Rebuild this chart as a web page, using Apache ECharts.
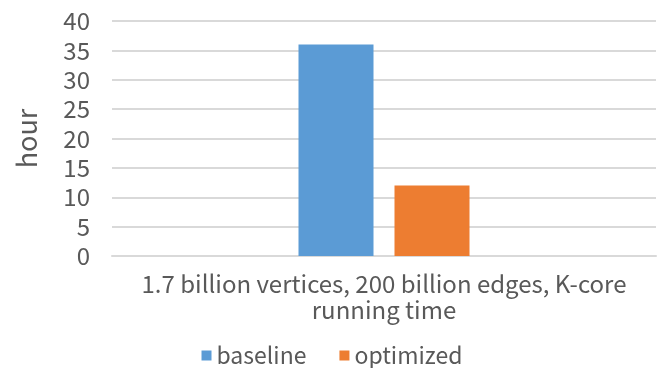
<!DOCTYPE html>
<html>
<head>
<meta charset="utf-8">
<script src="https://cdn.jsdelivr.net/npm/echarts@6/dist/echarts.min.js"></script>
<style>html,body{margin:0;padding:0;background:#fff}#c{width:664px;height:368px}</style>
</head>
<body>
<div id="c"></div>
<script>
var categories = ["1.7 billion vertices, 200 billion edges, K-core\nrunning time"];
var seriesNames = ["baseline", "optimized"];
var baseline = [36];
var optimized = [12];
var yTicks = {min: 0, max: 40, interval: 5};

var chart = echarts.init(document.getElementById('c'));
var font = '"Noto Sans CJK SC", "Noto Sans", sans-serif';
chart.setOption({
  animation: false,
  textStyle: {fontFamily: font},
  grid: {left: 112, right: 8, top: 21, bottom: 112},
  legend: {
    top: 344, left: 'center', padding: 0,
    icon: 'rect', itemWidth: 10, itemHeight: 10, itemGap: 33,
    textStyle: {fontSize: 23, color: '#595959', fontFamily: font},
    data: seriesNames
  },
  xAxis: {
    type: 'category', data: categories,
    axisTick: {show: false},
    axisLine: {lineStyle: {color: '#d9d9d9', width: 2}},
    axisLabel: {fontSize: 24, lineHeight: 26, color: '#595959', margin: 15, fontFamily: font, align: 'center'}
  },
  yAxis: {
    type: 'value', min: yTicks.min, max: yTicks.max, interval: yTicks.interval,
    name: 'hour', nameLocation: 'middle', nameGap: 72, nameRotate: 90,
    nameTextStyle: {fontSize: 27, color: '#595959', fontFamily: font},
    axisLine: {show: false}, axisTick: {show: false},
    axisLabel: {fontSize: 24, color: '#595959', margin: 22, fontFamily: font},
    splitLine: {lineStyle: {color: '#d9d9d9', width: 2}}
  },
  series: [
    {name: seriesNames[0], type: 'bar', data: baseline, barWidth: 75, barGap: '28%', itemStyle: {color: '#5b9bd5'}},
    {name: seriesNames[1], type: 'bar', data: optimized, barWidth: 75, itemStyle: {color: '#ed7d31'}}
  ]
});
</script>
</body>
</html>
